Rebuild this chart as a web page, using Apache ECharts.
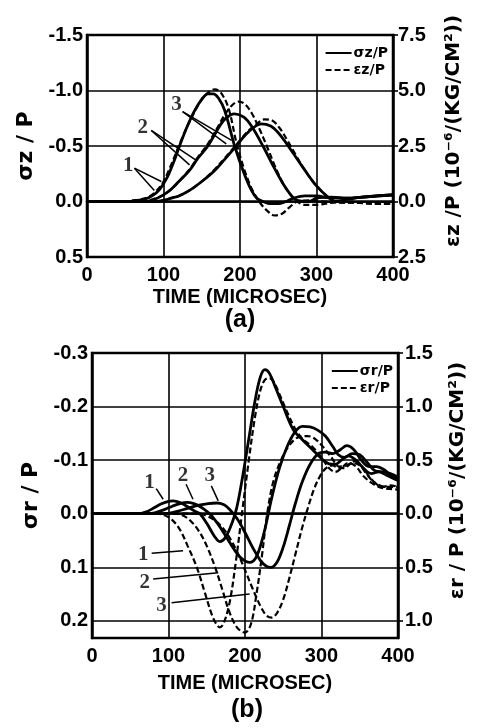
<!DOCTYPE html>
<html>
<head>
<meta charset="utf-8">
<script src="https://cdn.jsdelivr.net/npm/echarts@6/dist/echarts.min.js"></script>
<style>
  html, body { margin: 0; padding: 0; background: #fff; }
  #chart { width: 479px; height: 728px; }
</style>
</head>
<body>
<div id="chart"></div>
<script>
// (a) axial: stress sigma z / P (left axis) and strain eps z / P (right axis)
var tZ1 = [0, 55, 65, 75, 85, 95, 105, 113, 121, 130, 140, 150, 158, 165, 172, 180, 193, 205, 215, 222, 230, 240, 250, 260, 270, 285, 300, 320, 340, 360, 380, 400];
var sigZ1 = [0, 0, -0.01, -0.02, -0.05, -0.11, -0.22, -0.35, -0.5, -0.66, -0.81, -0.92, -0.97, -0.97, -0.93, -0.82, -0.5, -0.26, -0.1, -0.03, 0.0, 0.02, 0.02, 0.0, -0.03, -0.05, -0.05, -0.03, -0.03, -0.04, -0.05, -0.06];
var tZ2 = [0, 75, 85, 100, 110, 120, 134, 145, 158, 170, 180, 193, 205, 215, 230, 245, 260, 275, 290, 300, 320, 340, 360, 380, 400];
var sigZ2 = [0, 0, -0.01, -0.06, -0.11, -0.18, -0.28, -0.39, -0.5, -0.64, -0.74, -0.79, -0.76, -0.68, -0.5, -0.3, -0.12, -0.01, 0.0, -0.03, -0.04, -0.03, -0.04, -0.05, -0.06];
var tZ3 = [0, 90, 100, 110, 120, 134, 150, 167, 180, 195, 210, 228, 240, 250, 260, 270, 285, 300, 315, 325, 340, 360, 380, 400];
var sigZ3 = [0, 0, -0.01, -0.03, -0.05, -0.1, -0.18, -0.28, -0.38, -0.5, -0.62, -0.70, -0.68, -0.62, -0.53, -0.43, -0.28, -0.14, -0.04, 0.0, -0.02, -0.04, -0.05, -0.06];

var tEz1 = [0, 50, 60, 70, 80, 90, 100, 110, 120, 130, 140, 150, 160, 167, 175, 185, 195, 205, 215, 225, 235, 245, 255, 265, 275, 290, 310, 330, 350, 370, 400];
var epsZ1 = [0, 0, 0.05, 0.1, 0.2, 0.45, 0.9, 1.65, 2.5, 3.3, 4.0, 4.6, 4.95, 5.05, 4.9, 4.2, 2.7, 1.5, 0.6, 0.0, -0.4, -0.63, -0.55, -0.25, 0.0, 0.05, 0.0, -0.05, -0.05, -0.1, -0.1];
var tEz2 = [0, 70, 80, 90, 100, 110, 120, 134, 145, 158, 170, 180, 190, 198, 206, 215, 225, 235, 245, 255, 265, 275, 285, 300, 320, 340, 360, 380, 400];
var epsZ2 = [0, 0, 0.05, 0.15, 0.3, 0.55, 0.9, 1.45, 2.0, 2.6, 3.3, 3.9, 4.35, 4.5, 4.4, 4.0, 3.3, 2.5, 1.65, 0.9, 0.35, 0.0, -0.15, -0.15, -0.05, 0.0, -0.05, -0.1, -0.1];
var tEz3 = [0, 90, 100, 110, 120, 134, 150, 167, 180, 195, 210, 222, 232, 242, 252, 262, 272, 285, 300, 315, 325, 340, 360, 380, 400];
var epsZ3 = [0, 0, 0.05, 0.15, 0.25, 0.5, 0.9, 1.45, 1.95, 2.55, 3.15, 3.5, 3.7, 3.65, 3.3, 2.75, 2.15, 1.4, 0.7, 0.2, 0.0, -0.05, -0.05, -0.1, -0.1];

// (b) radial: stress sigma r / P (left axis) and strain eps r / P (right axis)
var tR1 = [0, 60, 70, 80, 90, 100, 106, 115, 125, 134, 141, 150, 160, 167, 174, 181, 189, 197, 205, 213, 220, 226, 232, 240, 250, 263, 275, 288, 300, 310, 318, 326, 335, 345, 355, 365, 375, 385, 400];
var sigR1 = [0, 0, -0.003, -0.01, -0.018, -0.023, -0.024, -0.021, -0.013, -0.005, 0.0, 0.018, 0.042, 0.052, 0.045, 0.025, -0.01, -0.07, -0.14, -0.21, -0.255, -0.269, -0.262, -0.235, -0.2, -0.157, -0.138, -0.12, -0.103, -0.093, -0.092, -0.1, -0.108, -0.1, -0.085, -0.075, -0.078, -0.072, -0.062];
var tR2 = [0, 75, 85, 95, 105, 115, 125, 135, 145, 155, 165, 175, 185, 195, 206, 215, 225, 235, 245, 255, 265, 275, 285, 295, 305, 315, 322, 330, 340, 350, 360, 370, 380, 390, 400];
var sigR2 = [0, 0, -0.003, -0.008, -0.014, -0.019, -0.021, -0.018, -0.01, 0.002, 0.02, 0.042, 0.065, 0.083, 0.091, 0.08, 0.035, -0.03, -0.085, -0.125, -0.152, -0.163, -0.162, -0.156, -0.145, -0.125, -0.11, -0.105, -0.112, -0.11, -0.095, -0.08, -0.078, -0.075, -0.068];
var tR3 = [0, 95, 110, 125, 140, 152, 163, 172, 180, 190, 200, 210, 220, 228, 234, 242, 250, 258, 266, 275, 285, 296, 305, 315, 325, 333, 342, 352, 362, 372, 382, 392, 400];
var sigR3 = [0, 0, -0.004, -0.01, -0.016, -0.019, -0.02, -0.017, -0.008, 0.01, 0.035, 0.063, 0.087, 0.098, 0.1, 0.09, 0.062, 0.022, -0.02, -0.06, -0.092, -0.112, -0.115, -0.112, -0.12, -0.127, -0.12, -0.1, -0.088, -0.088, -0.082, -0.07, -0.065];

var tEr1 = [0, 85, 95, 105, 115, 125, 137, 147, 157, 163, 167, 172, 180, 188, 196, 205, 213, 220, 226, 232, 238, 246, 255, 265, 275, 288, 300, 310, 318, 326, 335, 345, 355, 365, 375, 385, 400];
var epsR1 = [0, 0, -0.015, -0.06, -0.15, -0.3, -0.5, -0.725, -0.95, -1.035, -1.06, -1.025, -0.825, -0.45, 0, 0.5, 0.9, 1.15, 1.25, 1.265, 1.225, 1.1, 0.95, 0.8, 0.7, 0.625, 0.525, 0.425, 0.39, 0.425, 0.475, 0.44, 0.35, 0.29, 0.25, 0.235, 0.225];
var tEr2 = [0, 110, 120, 130, 140, 150, 161, 170, 180, 190, 200, 208, 215, 222, 229, 237, 247, 258, 270, 282, 293, 303, 313, 323, 333, 343, 353, 363, 373, 385, 400];
var epsR2 = [0, 0, -0.02, -0.075, -0.165, -0.3, -0.5, -0.7, -0.925, -1.065, -1.11, -1.025, -0.75, -0.4, 0, 0.3, 0.5, 0.64, 0.715, 0.725, 0.69, 0.615, 0.525, 0.44, 0.45, 0.49, 0.44, 0.34, 0.275, 0.25, 0.25];
var tEr3 = [0, 140, 150, 160, 170, 180, 190, 200, 210, 220, 228, 235, 242, 250, 258, 266, 274, 282, 290, 298, 306, 315, 322, 330, 340, 350, 360, 370, 380, 390, 400];
var epsR3 = [0, 0, -0.02, -0.06, -0.125, -0.225, -0.36, -0.525, -0.7, -0.86, -0.95, -0.97, -0.925, -0.8, -0.6, -0.375, -0.15, 0.05, 0.225, 0.35, 0.425, 0.45, 0.425, 0.425, 0.475, 0.45, 0.36, 0.285, 0.25, 0.265, 0.25];

// gauge number labels and their leader lines, in data units [time, stress]
var labelsA = [[54, -0.32, '1'], [73, -0.67, '2'], [117, -0.87, '3']];
var leadersA = [
  [[62, -0.30], [97, -0.18]], [[62, -0.30], [88, -0.10]],
  [[84, -0.64], [134, -0.33]], [[84, -0.64], [143, -0.37]],
  [[125, -0.81], [182, -0.52]], [[125, -0.81], [189, -0.55]]
];
var labelsB = [[75, -0.058, '1'], [119, -0.072, '2'], [154, -0.072, '3'],
               [67, 0.076, '1'], [69, 0.128, '2'], [91, 0.172, '3']];
var leadersB = [
  [[84, -0.047], [93, -0.027]], [[123, -0.055], [132, -0.027]], [[156, -0.052], [165, -0.024]],
  [[78, 0.074], [119, 0.069]], [[80, 0.122], [165, 0.11]], [[104, 0.166], [206, 0.150]]
];

var strainTicksB = [-1.0, -0.5, 0.0, 0.5, 1.0, 1.5];

function zip(t, v) {
  return t.map(function (x, i) { return [x, v[i]]; });
}

var black = '#000';
var numFont = { color: black, fontFamily: 'Liberation Sans', fontWeight: 'bold', fontSize: 20 };

function xAxisFor(gi, gap) {
  return {
    gridIndex: gi, type: 'value', min: 0, max: 400, interval: 100,
    axisLine: { show: true, lineStyle: { color: black, width: 2.5 } },
    axisTick: { show: false },
    axisLabel: Object.assign({ margin: 8 }, numFont),
    splitLine: { show: true, lineStyle: { color: black, width: 1.6 } },
    name: 'TIME (MICROSEC)', nameLocation: 'middle', nameGap: gap,
    nameTextStyle: { color: black, fontFamily: 'Liberation Sans', fontWeight: 'bold', fontSize: 20 }
  };
}

function oneDecimal(step) {
  return function (v) {
    var k = v / step;
    if (Math.abs(k - Math.round(k)) > 1e-6) return '';
    return (Math.round(v * 10) / 10).toFixed(1);
  };
}

function absDecimal(v) {
  return Math.abs(Math.round(v * 10) / 10).toFixed(1);
}

function line(name, data, xi, yi, dashed) {
  return {
    name: name, type: 'line', xAxisIndex: xi, yAxisIndex: yi,
    data: data, showSymbol: false, symbol: 'none', smooth: 0.35,
    lineStyle: dashed ? { color: black, width: 2.2, type: [6, 3] } : { color: black, width: 2.8 },
    itemStyle: { color: black },
    z: 3
  };
}

function annotations(xi, yi, labels, leaders) {
  return {
    type: 'scatter', xAxisIndex: xi, yAxisIndex: yi, silent: true,
    symbolSize: 1, itemStyle: { color: 'rgba(0,0,0,0)' },
    data: labels,
    label: {
      show: true, position: 'inside', color: black,
      fontFamily: 'Liberation Serif', fontWeight: 'bold', fontSize: 21,
      formatter: function (p) { return p.value[2]; }
    },
    markLine: {
      silent: true, symbol: ['none', 'none'], animation: false,
      label: { show: false },
      lineStyle: { color: black, width: 1.5, type: 'solid' },
      data: leaders.map(function (l) { return [{ coord: l[0] }, { coord: l[1] }]; })
    },
    z: 4
  };
}

var legendText = { color: black, fontFamily: 'DejaVu Sans', fontWeight: 'bold', fontSize: 14, padding: [0, 0, 0, -3] };

var chart = echarts.init(document.getElementById('chart'));
var option = {
  animation: false,
  backgroundColor: '#fff',
  grid: [
    { left: 87, top: 35, width: 306, height: 222, show: true, borderColor: black, borderWidth: 2.5 },
    { left: 92, top: 353, width: 306, height: 285, show: true, borderColor: black, borderWidth: 2.5 }
  ],
  legend: [
    {
      data: ['σz/P', 'εz/P'], orient: 'vertical', right: 86, top: 41, itemGap: 3,
      itemWidth: 26, itemHeight: 10, selectedMode: false,
      itemStyle: { opacity: 0 },
      textStyle: legendText
    },
    {
      data: ['σr/P', 'εr/P'], orient: 'vertical', right: 81, top: 359, itemGap: 3,
      itemWidth: 26, itemHeight: 10, selectedMode: false,
      itemStyle: { opacity: 0 },
      textStyle: legendText
    }
  ],
  xAxis: [xAxisFor(0, 30), xAxisFor(1, 35)],
  yAxis: [
    {
      gridIndex: 0, type: 'value', position: 'left', inverse: true,
      min: -1.5, max: 0.5, interval: 0.5,
      axisLine: { show: true, lineStyle: { color: black, width: 2.5 } },
      axisTick: { show: false },
      axisLabel: Object.assign({ margin: 4, formatter: oneDecimal(0.5) }, numFont),
      splitLine: { show: true, lineStyle: { color: black, width: 1.6 } },
      name: 'σz / P', nameLocation: 'middle', nameGap: 46, nameRotate: 90,
      nameTextStyle: { color: black, fontFamily: 'DejaVu Sans', fontWeight: 'bold', fontSize: 22 }
    },
    {
      gridIndex: 0, type: 'value', position: 'right',
      min: -2.5, max: 7.5, interval: 2.5,
      axisLine: { show: true, lineStyle: { color: black, width: 2.5 } },
      axisTick: { show: true, inside: false, length: 5, lineStyle: { color: black, width: 1.6 } },
      axisLabel: Object.assign({ margin: 5, formatter: absDecimal }, numFont),
      splitLine: { show: false },
      name: 'εz /P (10⁻⁶/(KG/CM²))', nameLocation: 'middle', nameGap: 51, nameRotate: 90,
      nameTextStyle: { color: black, fontFamily: 'DejaVu Sans', fontWeight: 'bold', fontSize: 20, padding: [0, 0, 0, 30] }
    },
    {
      gridIndex: 1, type: 'value', position: 'left', inverse: true,
      min: -0.3, max: 0.232, interval: 0.1,
      axisLine: { show: true, lineStyle: { color: black, width: 2.5 } },
      axisTick: { show: false },
      axisLabel: Object.assign({ margin: 4, formatter: oneDecimal(0.1) }, numFont),
      splitLine: { show: true, lineStyle: { color: black, width: 1.6 } },
      name: 'σr / P', nameLocation: 'middle', nameGap: 50, nameRotate: 90,
      nameTextStyle: { color: black, fontFamily: 'DejaVu Sans', fontWeight: 'bold', fontSize: 22 }
    },
    {
      gridIndex: 1, type: 'value', position: 'right',
      min: -1.16, max: 1.5,
      axisLine: { show: true, lineStyle: { color: black, width: 2.5 } },
      axisTick: { show: true, inside: false, length: 5, customValues: strainTicksB, lineStyle: { color: black, width: 1.6 } },
      axisLabel: Object.assign({ margin: 7, customValues: strainTicksB, formatter: absDecimal }, numFont),
      splitLine: { show: false },
      name: 'εr / P (10⁻⁶/(KG/CM²))', nameLocation: 'middle', nameGap: 50, nameRotate: 90,
      nameTextStyle: { color: black, fontFamily: 'DejaVu Sans', fontWeight: 'bold', fontSize: 20, padding: [0, 0, 0, 30] }
    }
  ],
  graphic: [
    { type: 'text', x: 240, y: 320, style: { text: '(a)', fill: black, font: 'bold 25px "Liberation Sans"', textAlign: 'center', textVerticalAlign: 'middle' } },
    { type: 'text', x: 247, y: 710, style: { text: '(b)', fill: black, font: 'bold 25px "Liberation Sans"', textAlign: 'center', textVerticalAlign: 'middle' } }
  ],
  series: [
    line('σz/P', zip(tZ1, sigZ1), 0, 0, false),
    line('σz/P', zip(tZ2, sigZ2), 0, 0, false),
    line('σz/P', zip(tZ3, sigZ3), 0, 0, false),
    line('εz/P', zip(tEz1, epsZ1), 0, 1, true),
    line('εz/P', zip(tEz2, epsZ2), 0, 1, true),
    line('εz/P', zip(tEz3, epsZ3), 0, 1, true),
    annotations(0, 0, labelsA, leadersA),
    line('σr/P', zip(tR1, sigR1), 1, 2, false),
    line('σr/P', zip(tR2, sigR2), 1, 2, false),
    line('σr/P', zip(tR3, sigR3), 1, 2, false),
    line('εr/P', zip(tEr1, epsR1), 1, 3, true),
    line('εr/P', zip(tEr2, epsR2), 1, 3, true),
    line('εr/P', zip(tEr3, epsR3), 1, 3, true),
    annotations(1, 2, labelsB, leadersB)
  ]
};
chart.setOption(option);
</script>
</body>
</html>
